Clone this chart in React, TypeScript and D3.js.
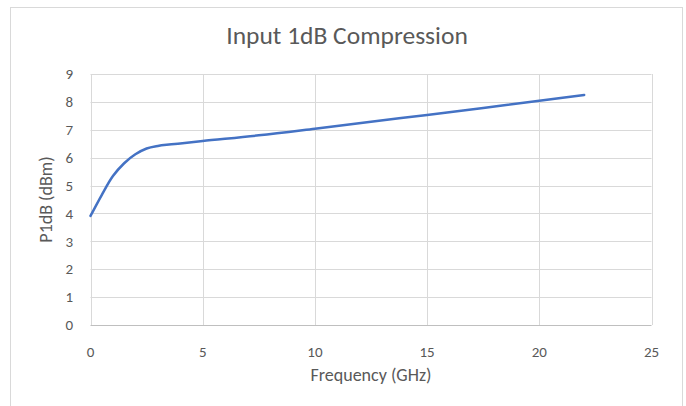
import React, { useEffect, useRef } from 'react';
import * as d3 from 'd3';

const frequency = [0, 0.5, 1, 1.5, 2, 2.5, 3, 3.5, 4, 5, 7.5, 10, 12.5, 15, 17.5, 20, 22];
const p1db = [3.91, 4.66, 5.34, 5.8, 6.12, 6.33, 6.42, 6.47, 6.51, 6.6, 6.8, 7.04, 7.29, 7.53, 7.78, 8.04, 8.25];
const xTicks = [0, 5, 10, 15, 20, 25];
const yTicks = [0, 1, 2, 3, 4, 5, 6, 7, 8, 9];

const W = 686;
const H = 406;
const FONT = "Carlito, Calibri, 'Open Sans', 'Noto Sans', sans-serif";

const App = () => {
  const svgRef = useRef<SVGSVGElement>(null);

  useEffect(() => {
    if (!svgRef.current) return;
    const svg = d3.select(svgRef.current);
    svg.selectAll('*').remove();

    const plot = { left: 90.5, right: 651.5, top: 74, bottom: 325 };
    const x = d3.scaleLinear().domain([0, 25]).range([plot.left, plot.right]);
    const y = d3.scaleLinear().domain([0, 9]).range([plot.bottom, plot.top]);

    // chart frame
    svg.append('rect')
      .attr('x', 10.5).attr('y', 7.5)
      .attr('width', 672).attr('height', 410)
      .attr('fill', 'white')
      .attr('stroke', '#d9d9d9');

    // title
    svg.append('text')
      .attr('x', 347).attr('y', 44)
      .attr('text-anchor', 'middle')
      .attr('font-family', FONT)
      .attr('font-size', 25.5)
      .attr('fill', '#595959')
      .text('Input 1dB Compression');

    // gridlines
    const grid = svg.append('g').attr('stroke', '#d9d9d9').attr('stroke-width', 1);
    yTicks.filter(t => t > 0).forEach(t => {
      grid.append('line')
        .attr('x1', plot.left).attr('x2', plot.right)
        .attr('y1', Math.round(y(t)) + 0.5).attr('y2', Math.round(y(t)) + 0.5);
    });
    xTicks.forEach(t => {
      grid.append('line')
        .attr('x1', Math.round(x(t)) + 0.5).attr('x2', Math.round(x(t)) + 0.5)
        .attr('y1', plot.top).attr('y2', plot.bottom);
    });

    // x axis line
    svg.append('line')
      .attr('x1', plot.left).attr('x2', plot.right)
      .attr('y1', plot.bottom + 0.5).attr('y2', plot.bottom + 0.5)
      .attr('stroke', '#bfbfbf');

    // tick labels
    const labels = svg.append('g')
      .attr('font-family', FONT)
      .attr('font-size', 15)
      .attr('fill', '#595959');
    yTicks.forEach(t => {
      labels.append('text')
        .attr('x', 73).attr('y', y(t))
        .attr('dy', '0.35em')
        .attr('text-anchor', 'end')
        .text(t);
    });
    xTicks.forEach(t => {
      labels.append('text')
        .attr('x', x(t)).attr('y', 352)
        .attr('dy', '0.35em')
        .attr('text-anchor', 'middle')
        .text(t);
    });

    // axis titles
    svg.append('text')
      .attr('x', x(12.5)).attr('y', 381)
      .attr('text-anchor', 'middle')
      .attr('font-family', FONT)
      .attr('font-size', 18)
      .attr('fill', '#595959')
      .text('Frequency (GHz)');
    svg.append('text')
      .attr('transform', `translate(52,${(plot.top + plot.bottom) / 2}) rotate(-90)`)
      .attr('text-anchor', 'middle')
      .attr('font-family', FONT)
      .attr('font-size', 18)
      .attr('fill', '#595959')
      .text('P1dB (dBm)');

    // series
    const points = frequency.map((f, i) => [f, p1db[i]] as [number, number]);
    const line = d3.line<[number, number]>()
      .x(d => x(d[0]))
      .y(d => y(d[1]))
      .curve(d3.curveCatmullRom.alpha(0.5));
    svg.append('path')
      .datum(points)
      .attr('d', line)
      .attr('fill', 'none')
      .attr('stroke', '#4472c4')
      .attr('stroke-width', 2.5)
      .attr('stroke-linecap', 'round');
  }, []);

  return (
    <svg
      ref={svgRef}
      width={W}
      height={H}
      style={{ position: 'absolute', left: 0, top: 0, background: 'white' }}
    />
  );
};

export default App;
